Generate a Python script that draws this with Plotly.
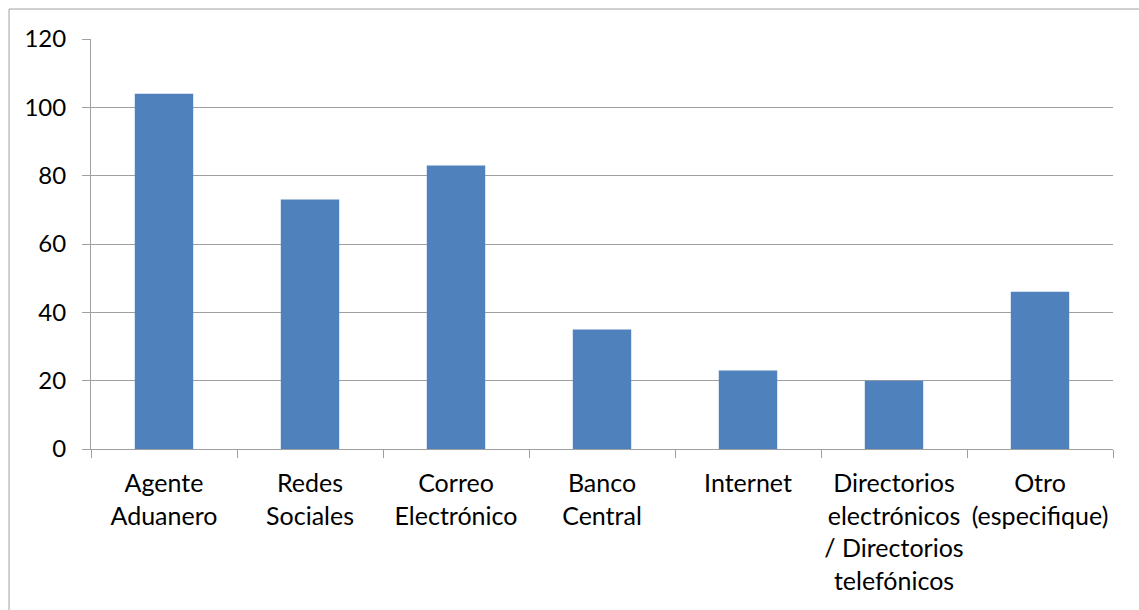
import plotly.graph_objects as go

# Canales de información y número de respuestas
categorias = [
    "Agente<br>Aduanero",
    "Redes<br>Sociales",
    "Correo<br>Electrónico",
    "Banco<br>Central",
    "Internet",
    "Directorios<br>electrónicos<br>/ Directorios<br>telefónicos",
    "Otro<br>(especifique)",
]
valores = [104, 73, 83, 35, 23, 20, 46]
ticks_y = [0, 20, 40, 60, 80, 100, 120]

GRIS = "#A0A0A0"
FAMILIA = "Lato, Calibri, Arial, sans-serif"
FUENTE_Y = dict(family=FAMILIA, size=24, color="#000000")
FUENTE_X = dict(family=FAMILIA, size=25, color="#000000")

fig = go.Figure(
    go.Bar(
        x=categorias,
        y=valores,
        marker=dict(color="#4F81BD", line=dict(width=0)),
        width=0.4,
    )
)

fig.update_layout(
    width=1139,
    height=610,
    margin=dict(l=91, r=26, t=39, b=160.5),
    paper_bgcolor="white",
    plot_bgcolor="white",
    showlegend=False,
    font=FUENTE_Y,
    shapes=[
        dict(
            type="rect",
            xref="paper",
            yref="paper",
            x0=-0.0802,
            x1=1.2,
            y0=-0.6,
            y1=1.0731,
            line=dict(color=GRIS, width=1),
            fillcolor="rgba(0,0,0,0)",
            layer="below",
        )
    ],
)

fig.update_xaxes(
    type="category",
    tickson="boundaries",
    ticks="outside",
    ticklen=8,
    tickcolor=GRIS,
    showline=True,
    linecolor=GRIS,
    linewidth=1,
    showgrid=False,
    tickfont=FUENTE_X,
    tickangle=0,
    ticklabelstandoff=12,
)

fig.update_yaxes(
    range=[0, 120],
    tickvals=ticks_y,
    ticks="outside",
    ticklen=8,
    tickcolor=GRIS,
    showline=True,
    linecolor=GRIS,
    linewidth=1,
    showgrid=True,
    gridcolor=GRIS,
    gridwidth=1,
    zeroline=False,
    tickfont=FUENTE_Y,
    ticklabelstandoff=11,
)

fig.write_html("out.html")
